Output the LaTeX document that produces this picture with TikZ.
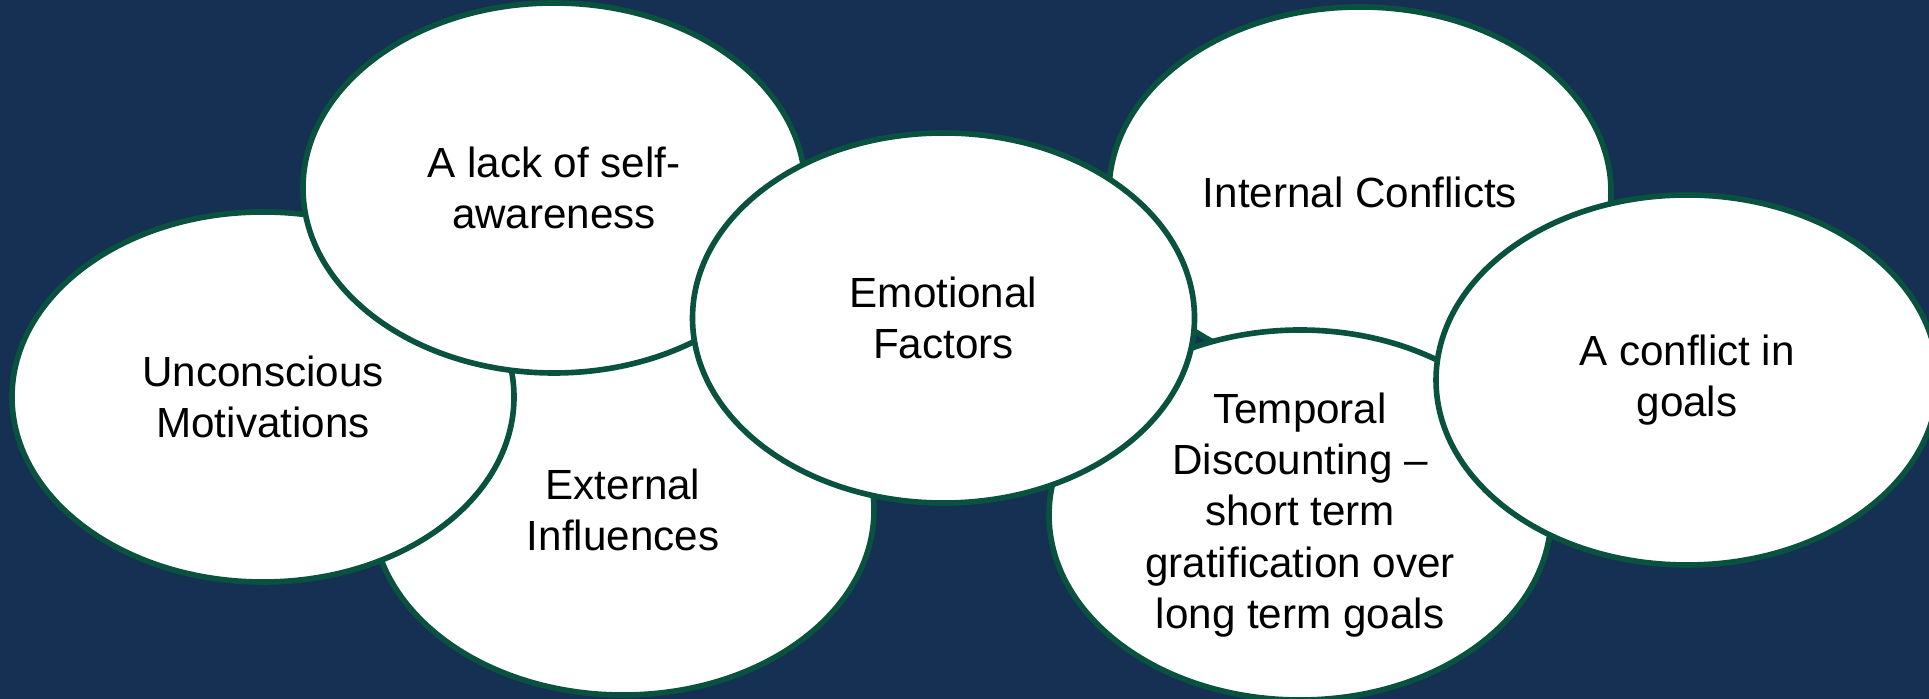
\documentclass[tikz,border=0pt]{standalone}
\usepackage{fontspec}
\setmainfont{Liberation Sans}
\usepackage{tikz}
\usetikzlibrary{shapes.geometric}
\definecolor{navy}{RGB}{21,48,82}
\definecolor{ringgreen}{RGB}{10,82,64}
\tikzstyle{factor} = [ellipse, draw=ringgreen, line width=1.6pt, fill=white, minimum width=5.02cm, minimum height=3.7cm, inner sep=0pt, align=center, font=\fontsize{12}{14.6}\selectfont]

\begin{document}
\begin{tikzpicture}

% Backdrop
\fill[navy] (0,0) rectangle (19.29,6.99);
\useasboundingbox (0,0) rectangle (19.29,6.99);

% Left cluster
\node (ext) [factor] at (6.23,1.89) {External\\Influences};
\node (unc) [factor] at (2.63,3.02) {Unconscious\\Motivations};
\node (lack) [factor] at (5.54,5.11) {A lack of self-\\awareness};

% Right cluster
\node (int) [factor] at (13.60,5.07) {Internal Conflicts};
\node (temp) [factor] at (13.00,1.84) {Temporal\\Discounting --\\short term\\gratification over\\long term goals};
\node (conf) [factor] at (16.87,3.19) {A conflict in\\goals};

% Centre
\node (emo) [factor] at (9.435,3.81) {Emotional\\Factors};

\end{tikzpicture}
\end{document}
